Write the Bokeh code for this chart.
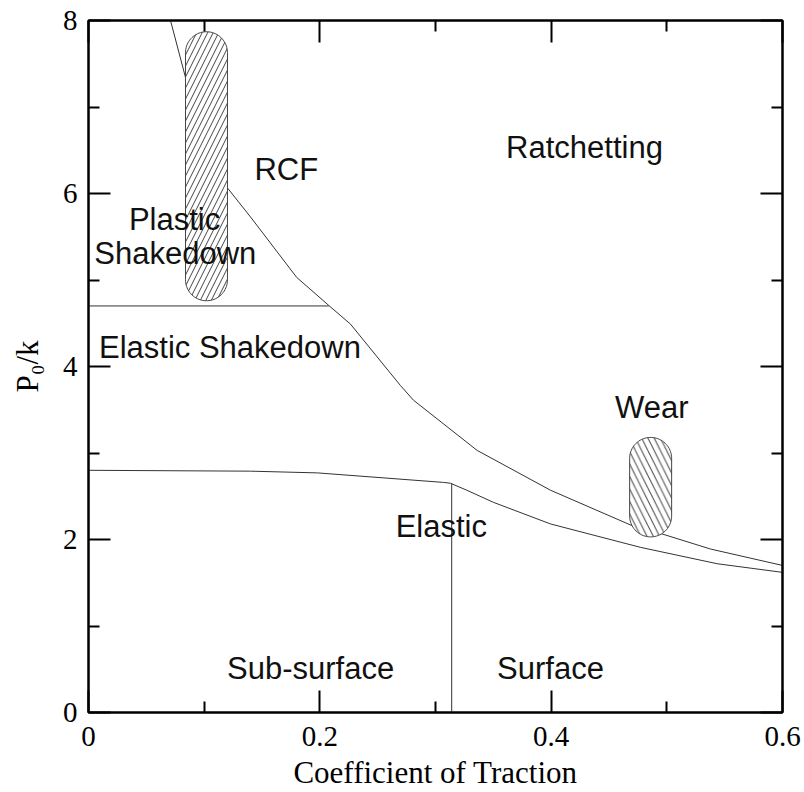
import numpy as np
from bokeh.plotting import figure
from bokeh.models import ColumnDataSource, LinearAxis, FixedTicker, Range1d
from bokeh.core.properties import value
from bokeh.embed import file_html
from bokeh.resources import INLINE

# --- axis ticks -------------------------------------------------------------
x_ticks = [0, 0.2, 0.4, 0.6]
x_tick_labels = ["0", "0.2", "0.4", "0.6"]
x_minor = [0.1, 0.3, 0.5]
y_ticks = [0, 2, 4, 6, 8]
y_tick_labels = ["0", "2", "4", "6", "8"]
y_minor = [1, 3, 5, 7]

# --- boundary curves (coefficient of traction, P0/k) ------------------------
ratchet_x = [0.0709, 0.0839, 0.100, 0.1198, 0.140, 0.160, 0.180, 0.2078,
             0.2265, 0.2697, 0.281, 0.336, 0.3994, 0.470, 0.4945, 0.5377, 0.600]
ratchet_y = [8.00, 7.34, 6.75, 6.07, 5.73, 5.38, 5.03, 4.705,
             4.49, 3.78, 3.61, 3.03, 2.57, 2.16, 2.07, 1.89, 1.70]

shakedown_x = [0.0, 0.2078]
shakedown_y = [4.70, 4.70]

elastic_x = [0.0, 0.140, 0.198, 0.307, 0.313, 0.327, 0.350, 0.3994, 0.477, 0.5435, 0.600]
elastic_y = [2.80, 2.79, 2.77, 2.66, 2.65, 2.57, 2.43, 2.18, 1.91, 1.72, 1.62]

split_x = [0.314, 0.314]
split_y = [0.0, 2.65]

# --- hatched bands ----------------------------------------------------------
band_x = [0.102, 0.486]
band_bottom = [4.76, 2.03]
band_top = [7.87, 3.18]
band_width = [0.0363, 0.0363]
band_hatch = ["/", "\\"]
band_scale = [11, 12.5]

# --- region names -----------------------------------------------------------
zone_names = ["Ratchetting", "RCF", "Plastic", "Shakedown", "Elastic Shakedown",
              "Wear", "Elastic", "Sub-surface", "Surface"]
zone_x = [0.4288, 0.171, 0.0744, 0.075, 0.1223, 0.487, 0.305, 0.192, 0.3994]
zone_y = [6.53, 6.28, 5.70, 5.31, 4.22, 3.53, 2.15, 0.51, 0.51]

X_RANGE = (0, 0.6)
Y_RANGE = (0, 8)
LEFT, RIGHT, TOP, BOTTOM = 88, 22, 20, 80
W, H = 804, 792
FW, FH = W - LEFT - RIGHT, H - TOP - BOTTOM

p = figure(width=W, height=H,
           x_range=Range1d(*X_RANGE), y_range=Range1d(*Y_RANGE),
           output_backend="svg", toolbar_location=None,
           min_border_left=LEFT, min_border_right=RIGHT,
           min_border_top=TOP, min_border_bottom=BOTTOM)
p.grid.visible = False
p.outline_line_color = "black"
p.outline_line_width = 2
p.background_fill_color = "white"
p.border_fill_color = "white"

SERIF = "Liberation Serif"
SANS = "Liberation Sans"


def style_axis(ax, ticks, minor, labels, show):
    ax.ticker = FixedTicker(ticks=ticks, minor_ticks=minor)
    ax.axis_line_color = "black"
    ax.axis_line_width = 2
    ax.major_tick_in = 22
    ax.major_tick_out = 0
    ax.minor_tick_in = 11
    ax.minor_tick_out = 0
    ax.major_tick_line_width = 2
    ax.minor_tick_line_width = 2
    ax.major_tick_line_color = "black"
    ax.minor_tick_line_color = "black"
    ax.major_label_text_font = SERIF
    if show:
        ax.major_label_overrides = {t: s for t, s in zip(ticks, labels)}
        ax.major_label_text_color = "black"
        ax.major_label_text_font_size = "29px"
    else:
        # mirrored frame axis: ticks only
        ax.major_label_text_color = None
        ax.major_label_text_font_size = "1px"
        ax.major_label_standoff = 0


xa = p.xaxis[0]
ya = p.yaxis[0]
style_axis(xa, x_ticks, x_minor, x_tick_labels, True)
style_axis(ya, y_ticks, y_minor, y_tick_labels, True)
xa.major_label_standoff = 14
ya.major_label_standoff = 11
xa.axis_label = "Coefficient of Traction"
ya.axis_label = "P\u2080/k"
for ax in (xa, ya):
    ax.axis_label_text_font = SERIF
    ax.axis_label_text_font_size = "31px"
    ax.axis_label_text_font_style = "normal"
    ax.axis_label_text_color = "black"
xa.axis_label_standoff = 6
ya.axis_label_standoff = 15

top_ax = LinearAxis()
right_ax = LinearAxis()
style_axis(top_ax, x_ticks, x_minor, x_tick_labels, False)
style_axis(right_ax, y_ticks, y_minor, y_tick_labels, False)
p.add_layout(top_ax, "above")
p.add_layout(right_ax, "right")

line_kw = dict(line_color="#333333", line_width=1)
p.line(ratchet_x, ratchet_y, **line_kw)
p.line(shakedown_x, shakedown_y, **line_kw)
p.line(elastic_x, elastic_y, **line_kw)
p.line(split_x, split_y, **line_kw)

# capsule outlines: semicircular ends in screen space
kx = FW / (X_RANGE[1] - X_RANGE[0])
ky = FH / (Y_RANGE[1] - Y_RANGE[0])
for cx, yb, yt, w, hatch, sc in zip(band_x, band_bottom, band_top, band_width,
                                    band_hatch, band_scale):
    rx = w / 2
    ry = rx * kx / ky
    a_top = np.linspace(0, np.pi, 40)
    a_bot = np.linspace(np.pi, 2 * np.pi, 40)
    xs = np.concatenate([cx + rx * np.cos(a_top), cx + rx * np.cos(a_bot)])
    ys = np.concatenate([(yt - ry) + ry * np.sin(a_top), (yb + ry) + ry * np.sin(a_bot)])
    p.patch(xs, ys, fill_color="white", line_color="#444444", line_width=1,
            hatch_pattern=hatch, hatch_color="#444444", hatch_weight=1, hatch_scale=sc)

zones = ColumnDataSource(dict(x=zone_x, y=zone_y, text=zone_names))
p.text(x="x", y="y", text="text", source=zones,
       text_font=value(SANS), text_font_size="31px", text_color="#111111",
       text_align="center", text_baseline="middle")

open("out.html", "w").write(file_html(p, INLINE))
